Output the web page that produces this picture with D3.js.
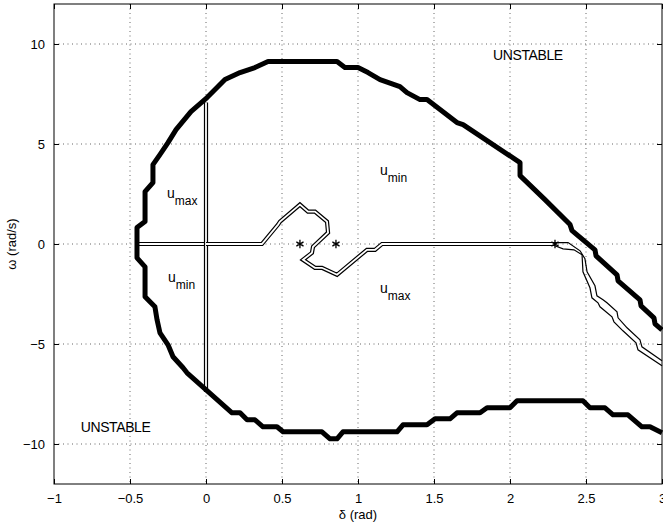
<!DOCTYPE html>
<html>
<head>
<meta charset="utf-8">
<script src="https://cdn.jsdelivr.net/npm/d3@7"></script>
<style>
  body { margin: 0; background: #fff; }
  svg text { font-family: "Liberation Sans", Arial, sans-serif; fill: #000; }
</style>
</head>
<body>
<div id="chart"></div>
<script>
// axis ranges and ticks
const xDomain = [-1, 3];
const yDomain = [-12, 12];
const xTicks = [-1, -0.5, 0, 0.5, 1, 1.5, 2, 2.5, 3];
const yTicks = [-10, -5, 0, 5, 10];

// outer stability boundary (thick black), [delta, omega]
const boundaryUpper = [
  [-0.454, 0], [-0.454, 0.82], [-0.401, 1.12], [-0.401, 2.62], [-0.349, 3.07], [-0.349, 3.97],
  [-0.303, 4.47], [-0.25, 5.07], [-0.197, 5.72], [-0.099, 6.62], [0.007, 7.32], [0.125, 8.22],
  [0.224, 8.57], [0.322, 8.82], [0.408, 9.12], [0.862, 9.12], [0.914, 8.82], [1.0, 8.82],
  [1.066, 8.57], [1.145, 8.22], [1.276, 7.87], [1.322, 7.57], [1.408, 7.22], [1.454, 7.22],
  [1.651, 6.07], [1.691, 5.97], [2.066, 4.07], [2.066, 3.42], [2.23, 2.22], [2.395, 0.97],
  [2.408, 0.67], [2.559, -0.29], [2.566, -0.59], [2.704, -1.54], [2.711, -1.84], [2.855, -2.79],
  [2.862, -3.09], [2.947, -3.69], [2.954, -3.99], [3.0, -4.3]
];
const boundaryLower = [
  [-0.454, 0], [-0.454, -0.69], [-0.401, -1.14], [-0.401, -2.64], [-0.336, -3.14], [-0.322, -3.79],
  [-0.303, -4.44], [-0.25, -5.04], [-0.217, -5.64], [-0.151, -6.19], [-0.125, -6.44], [0.171, -8.44],
  [0.224, -8.44], [0.27, -8.79], [0.322, -8.79], [0.375, -9.14], [0.467, -9.14], [0.507, -9.39],
  [0.763, -9.39], [0.816, -9.74], [0.862, -9.74], [0.901, -9.39], [1.257, -9.39], [1.296, -9.04],
  [1.454, -9.04], [1.507, -8.74], [1.605, -8.74], [1.651, -8.44], [1.803, -8.44], [1.849, -8.19],
  [2.0, -8.19], [2.046, -7.84], [2.48, -7.84], [2.526, -8.19], [2.625, -8.19], [2.678, -8.54],
  [2.776, -8.54], [2.868, -9.14], [2.921, -9.14], [3.0, -9.44]
];

// switching curves (double lines)
const switchLeft = [[-0.454, 0], [0, 0]];
const switchVertical = [[0, 7.07], [0, -7.4]];
const switchMain = [
  [0, 0], [0.368, 0], [0.474, 0.97], [0.487, 1.12], [0.618, 1.97], [0.671, 1.62], [0.717, 1.62],
  [0.796, 1.12], [0.803, 0.57], [0.704, -0.14], [0.697, -0.44], [0.638, -0.79], [0.717, -1.19],
  [0.763, -1.19], [0.862, -1.54], [1.059, -0.29], [1.112, -0.29], [1.158, 0], [2.296, 0]
];
// right branch, drawn as its two edges
const branchUpper = [
  [2.296, 0.07], [2.382, 0.07], [2.461, -0.34], [2.493, -0.74], [2.507, -1.39], [2.559, -2.09],
  [2.572, -2.59], [2.612, -2.79], [2.638, -2.94], [2.704, -3.39], [2.711, -3.69], [2.77, -4.19],
  [2.855, -4.79], [2.868, -5.14], [3.0, -5.84]
];
const branchLower = [
  [2.296, -0.09], [2.349, -0.24], [2.421, -0.29], [2.474, -0.54], [2.48, -1.39], [2.526, -2.19],
  [2.539, -2.69], [2.579, -2.94], [2.592, -3.14], [2.671, -3.64], [2.684, -3.89], [2.743, -4.34],
  [2.829, -4.94], [2.842, -5.29], [3.0, -6.09]
];

// equilibrium points
const stars = [[0.618, 0], [0.855, 0], [2.296, 0]];

// region labels: [delta, omega, text, subscript]
const unstableLabels = [[2.118, 9.2], [-0.595, -9.39]];
const controlLabels = [
  [-0.257, 2.31, "u", "max"],
  [-0.25, -1.89, "u", "min"],
  [1.145, 3.46, "u", "min"],
  [1.145, -2.43, "u", "max"]
];

const W = 663, H = 525;
const margin = { top: 4, right: 1, bottom: 41, left: 54 };
const width = W - margin.left - margin.right;
const height = H - margin.top - margin.bottom;

const svg = d3.select("#chart").append("svg")
  .attr("width", W).attr("height", H);

const g = svg.append("g")
  .attr("transform", `translate(${margin.left},${margin.top})`);

const x = d3.scaleLinear().domain(xDomain).range([0, width]);
const y = d3.scaleLinear().domain(yDomain).range([height, 0]);

const fmt = d => (d < 0 ? "\u2212" : "") + Math.abs(d);

// grid
g.append("g").selectAll("line").data(xTicks.slice(1, -1)).join("line")
  .attr("x1", d => x(d)).attr("x2", d => x(d))
  .attr("y1", 0).attr("y2", height)
  .attr("stroke", "#666").attr("stroke-width", 1).attr("stroke-dasharray", "1,3.5");
g.append("g").selectAll("line").data(yTicks).join("line")
  .attr("y1", d => y(d)).attr("y2", d => y(d))
  .attr("x1", 0).attr("x2", width)
  .attr("stroke", "#666").attr("stroke-width", 1).attr("stroke-dasharray", "1,3.5");

// axes: ticks inside on all sides
const tl = 5;
g.append("g").attr("transform", `translate(0,${height})`)
  .call(d3.axisBottom(x).tickValues(xTicks).tickSizeInner(-tl).tickSizeOuter(0).tickPadding(tl + 5).tickFormat(fmt))
  .attr("class", "ax");
g.append("g")
  .call(d3.axisTop(x).tickValues(xTicks).tickSizeInner(-tl).tickSizeOuter(0).tickFormat(""))
  .attr("class", "ax");
g.append("g")
  .call(d3.axisLeft(y).tickValues(yTicks).tickSizeInner(-tl).tickSizeOuter(0).tickPadding(tl + 4).tickFormat(fmt))
  .attr("class", "ax");
g.append("g").attr("transform", `translate(${width},0)`)
  .call(d3.axisRight(y).tickValues(yTicks).tickSizeInner(-tl).tickSizeOuter(0).tickFormat(""))
  .attr("class", "ax");
g.selectAll(".ax path").remove();
g.selectAll(".ax line").attr("stroke", "#000");
g.selectAll(".ax text").style("font-size", "13px").attr("fill", "#000");

const line = d3.line().x(d => x(d[0])).y(d => y(d[1]));

const plot = g.append("g");

// switching curves: black outline with white core
[switchLeft, switchVertical, switchMain].forEach(pts => {
  plot.append("path").datum(pts).attr("d", line)
    .attr("fill", "none").attr("stroke", "#000").attr("stroke-width", 4.2)
    .attr("stroke-linejoin", "miter");
  plot.append("path").datum(pts).attr("d", line)
    .attr("fill", "none").attr("stroke", "#fff").attr("stroke-width", 1.8)
    .attr("stroke-linejoin", "miter");
});
[branchUpper, branchLower].forEach(pts => {
  plot.append("path").datum(pts).attr("d", line)
    .attr("fill", "none").attr("stroke", "#000").attr("stroke-width", 1.2);
});

// boundary
[boundaryUpper, boundaryLower].forEach(pts => {
  plot.append("path").datum(pts).attr("d", line)
    .attr("fill", "none").attr("stroke", "#000").attr("stroke-width", 5)
    .attr("stroke-linejoin", "round");
});

// stars
plot.selectAll(".star").data(stars).join("path")
  .attr("class", "star")
  .attr("transform", d => `translate(${x(d[0])},${y(d[1])})`)
  .attr("d", d3.symbol().type(d3.symbolAsterisk).size(48))
  .attr("fill", "none").attr("stroke", "#000").attr("stroke-width", 1.3);

// labels
plot.selectAll(".unst").data(unstableLabels).join("text")
  .attr("x", d => x(d[0])).attr("y", d => y(d[1]))
  .attr("text-anchor", "middle").style("font-size", "14px")
  .style("letter-spacing", "-0.4px")
  .text("UNSTABLE");

const cl = plot.selectAll(".ctl").data(controlLabels).join("text")
  .attr("x", d => x(d[0])).attr("y", d => y(d[1]))
  .style("font-size", "14px");
cl.append("tspan").text(d => d[2]);
cl.append("tspan").attr("dy", 7).style("font-size", "12px").text(d => d[3]);

// axis titles
svg.append("text")
  .attr("x", margin.left + x(1)).attr("y", 519)
  .attr("text-anchor", "middle").style("font-size", "13px")
  .text("\u03b4 (rad)");
svg.append("text")
  .attr("transform", `translate(16,${margin.top + y(0)}) rotate(-90)`)
  .attr("text-anchor", "middle").style("font-size", "13px")
  .text("\u03c9 (rad/s)");

// frame
g.append("rect").attr("width", width).attr("height", height)
  .attr("fill", "none").attr("stroke", "#000").attr("stroke-width", 1);
</script>
</body>
</html>
